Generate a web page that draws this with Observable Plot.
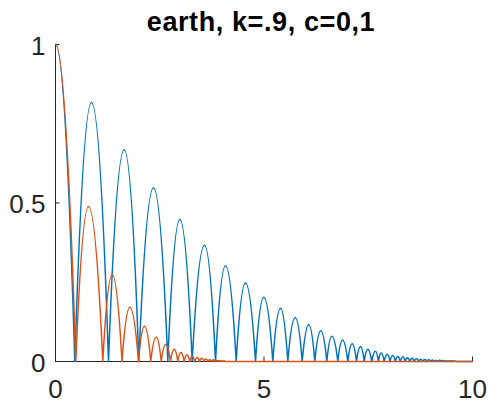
<!DOCTYPE html>
<html><head><meta charset="utf-8">
<script src="https://cdn.jsdelivr.net/npm/d3@7"></script>
<script src="https://cdn.jsdelivr.net/npm/@observablehq/plot@0.6"></script>
<style>
body{margin:0;background:#fff;width:489px;height:405px;overflow:hidden;font-family:"Liberation Sans",Arial,sans-serif;}
#title{box-sizing:border-box;height:36px;padding-top:9px;padding-left:33px;text-align:center;font-weight:bold;font-size:27px;line-height:27px;letter-spacing:0.6px;color:#000;white-space:nowrap;}
#chart svg{display:block;overflow:visible;}
</style></head><body>
<div id="title"></div>
<div id="chart"></div>
<script>
const title = "earth, k=.9, c=0,1";
const xTicks = [0, 5, 10];
const yTicks = [0, 0.5, 1];
const startHeight = 1;
const tEnd = 10;

// c = 0 (blue): landing times, apex times, apex heights
const blueLandings = [0.463, 1.271, 1.998, 2.693, 3.278, 3.837, 4.333, 4.796, 5.211, 5.571,
  5.916, 6.218, 6.506, 6.770, 7.010, 7.218, 7.403, 7.583, 7.743, 7.882,
  8.022, 8.149, 8.269, 8.386, 8.496, 8.604, 8.710, 8.808, 8.904, 8.998,
  9.084, 9.173, 9.257, 9.338, 9.41, 9.48, 9.55, 9.62];
const bluePeakTimes = [0.863, 1.647, 2.350, 2.981, 3.573, 4.077, 4.556, 4.995, 5.396, 5.748,
  6.074, 6.362, 6.626, 6.882, 7.115, 7.314, 7.489, 7.674, 7.811, 7.954,
  8.089, 8.209, 8.329, 8.441, 8.554, 8.657, 8.760, 8.856, 8.952, 9.041,
  9.129, 9.216, 9.297, 9.374, 9.445, 9.515, 9.585];
const bluePeakHeights = [0.817, 0.668, 0.548, 0.448, 0.367, 0.302, 0.248, 0.203, 0.168, 0.139,
  0.116, 0.097, 0.080, 0.068, 0.056, 0.047, 0.039, 0.032, 0.027, 0.023,
  0.019, 0.016, 0.014, 0.012, 0.010, 0.0085, 0.0073, 0.0063, 0.0054, 0.0047,
  0.0041, 0.0036, 0.0031, 0.0027, 0.0023, 0.002, 0.0017];

// c = 1 (red)
const redLandings = [0.487, 1.134, 1.595, 1.990, 2.285, 2.535, 2.758, 2.933, 3.086, 3.221,
  3.341, 3.453, 3.559, 3.655, 3.741, 3.820, 3.892, 3.957, 4.014, 4.065];
const redPeakTimes = [0.791, 1.360, 1.782, 2.134, 2.415, 2.645, 2.847, 3.005, 3.149, 3.278,
  3.398, 3.506, 3.607, 3.698, 3.782, 3.856, 3.926, 3.986, 4.041];
const redPeakHeights = [0.489, 0.274, 0.171, 0.111, 0.077, 0.054, 0.039, 0.028, 0.021, 0.016,
  0.013, 0.010, 0.008, 0.0065, 0.0052, 0.0042, 0.0034, 0.0027, 0.0022];

const seriesColors = {"c=0": "#0072BD", "c=1": "#D95319"};

function buildSeries(name, landings, peakTimes, peakHeights) {
  const pts = [{t: 0, h: startHeight, s: name}];
  landings.forEach((L, i) => {
    pts.push({t: L, h: 0, s: name});
    if (i < peakTimes.length) pts.push({t: peakTimes[i], h: peakHeights[i], s: name});
  });
  pts.push({t: tEnd, h: 0, s: name});
  return pts;
}

// ballistic arcs between apex and ground points (quadratic = parabolic segments)
function arcCurve(context) {
  let pts = [];
  return {
    areaStart() {}, areaEnd() {},
    lineStart() { pts = []; },
    point(x, y) { pts.push([+x, +y]); },
    lineEnd() {
      if (!pts.length) return;
      context.moveTo(pts[0][0], pts[0][1]);
      for (let i = 1; i < pts.length; i++) {
        const [x0, y0] = pts[i - 1], [x1, y1] = pts[i];
        if (Math.abs(y0 - y1) < 1e-9) context.lineTo(x1, y1);
        else context.quadraticCurveTo((x0 + x1) / 2, Math.min(y0, y1), x1, y1);
      }
    }
  };
}

document.getElementById("title").textContent = title;

const blue = buildSeries("c=0", blueLandings, bluePeakTimes, bluePeakHeights);
const red = buildSeries("c=1", redLandings, redPeakTimes, redPeakHeights);

const axisColor = "#262626";
const chart = Plot.plot({
  width: 489,
  height: 369,
  marginLeft: 55,
  marginRight: 17,
  marginTop: 8,
  marginBottom: 44,
  style: {background: "white", color: axisColor, fontFamily: "'Liberation Sans', Arial, sans-serif", fontSize: "26px", overflow: "visible"},
  x: {domain: [0, 10]},
  y: {domain: [0, 1]},
  marks: [
    Plot.axisX({ticks: xTicks, tickFormat: d => String(d), tickSize: 0, tickPadding: 18, fontSize: 26, label: null}),
    Plot.axisY({ticks: yTicks, tickFormat: d => String(d), tickSize: 0, tickPadding: 10, fontSize: 26, dy: 2, label: null}),
    Plot.ruleX([0], {stroke: axisColor, strokeWidth: 1}),
    Plot.ruleY([0], {stroke: axisColor, strokeWidth: 1}),
    Plot.ruleY(yTicks, {x1: 0, x2: 0.11, stroke: axisColor, strokeWidth: 1}),
    Plot.ruleX(xTicks, {y1: 0, y2: 0.014, stroke: axisColor, strokeWidth: 1}),
    Plot.line(blue, {x: "t", y: "h", stroke: seriesColors["c=0"], strokeWidth: 1.5, curve: arcCurve}),
    Plot.line(red, {x: "t", y: "h", stroke: seriesColors["c=1"], strokeWidth: 1.5, curve: arcCurve})
  ]
});
document.getElementById("chart").appendChild(chart);
</script>
</body></html>
